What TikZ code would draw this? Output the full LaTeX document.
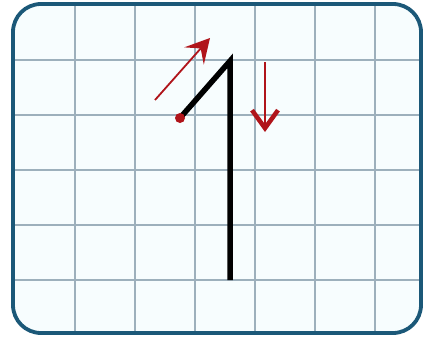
\documentclass[tikz,border=0pt]{standalone}
\usetikzlibrary{arrows.meta}
\definecolor{frameblue}{HTML}{1B5878}
\definecolor{gridgray}{HTML}{9DB0BC}
\definecolor{paper}{HTML}{F7FDFE}
\definecolor{arrowred}{HTML}{B0141A}
\tikzset{
  gridline/.style={draw=gridgray, line width=1.1pt},
  stroke/.style={draw=black, line width=5.5pt, line join=miter},
  redarrow/.style={draw=arrowred, line width=1.8pt, -{Stealth[length=24pt,width=26pt,inset=10pt]}},
  redchevron/.style={draw=arrowred, line width=2.6pt, -{Straight Barb[length=18pt,width=26pt,line width=4.5pt]}},
}
\begin{document}
\begin{tikzpicture}[x=1pt,y=-1pt]
\useasboundingbox (0,0) rectangle (425,340);
\fill[white] (0,0) rectangle (425,340);
% paper
\fill[paper, rounded corners=28pt] (13,4) rectangle (421,333);
% grid
\begin{scope}
\clip[rounded corners=28pt] (13,4) rectangle (421,333);
\foreach \x in {75,135,195,255,315,375} \draw[gridline] (\x,4) -- (\x,333);
\foreach \y in {60,115,170,225,280} \draw[gridline] (13,\y) -- (421,\y);
\end{scope}
% frame
\draw[frameblue, line width=3.8pt, rounded corners=28pt] (13,4) rectangle (421,333);
% the stroke
\coordinate (start) at (180,118);
\coordinate (peak) at (230,61);
\coordinate (foot) at (230,280);
\draw[stroke] (start) -- (peak) -- (foot);
\fill[arrowred] (start) circle (5pt);
% red arrows
\coordinate (a1s) at (155,100);
\coordinate (a1e) at (210,38);
\coordinate (a2s) at (265,62);
\coordinate (a2e) at (265,132);
\draw[redarrow] (a1s) -- (a1e);
\draw[redchevron] (a2s) -- (a2e);
\end{tikzpicture}
\end{document}
